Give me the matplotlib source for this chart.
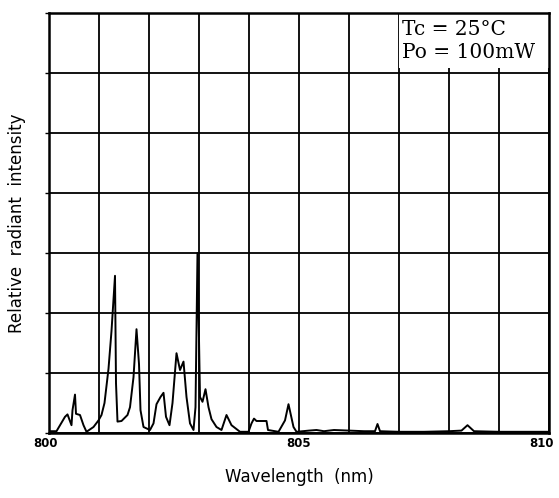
import matplotlib
matplotlib.use("Agg")
import matplotlib.pyplot as plt
import matplotlib.transforms as mtransforms

# Spectrum (wavelength nm, relative intensity in grid units)
wavelength = [800.00, 800.15, 800.32, 800.37, 800.45, 800.47, 800.52, 800.54, 800.62, 800.69,
              800.75, 800.89, 800.99, 801.05, 801.11, 801.19, 801.25, 801.32, 801.34, 801.37,
              801.45, 801.57, 801.62, 801.69, 801.75, 801.80, 801.83, 801.89, 802.02, 802.09,
              802.15, 802.23, 802.29, 802.34, 802.41, 802.47, 802.55, 802.62, 802.69, 802.75,
              802.82, 802.89, 802.93, 802.97, 803.02, 803.07, 803.13, 803.19, 803.25, 803.35,
              803.45, 803.55, 803.65, 803.82, 803.99, 804.05, 804.10, 804.15, 804.35, 804.38,
              804.59, 804.72, 804.79, 804.89, 804.95, 805.20, 805.35, 805.50, 805.70, 806.00,
              806.30, 806.52, 806.57, 806.62, 807.00, 807.50, 808.00, 808.25, 808.37, 808.50,
              809.00, 809.50, 810.00]
intensity = [0.03, 0.03, 0.27, 0.31, 0.13, 0.38, 0.64, 0.32, 0.30, 0.13,
             0.02, 0.10, 0.21, 0.30, 0.50, 1.07, 1.70, 2.62, 0.83, 0.19,
             0.20, 0.30, 0.43, 0.93, 1.73, 1.15, 0.38, 0.10, 0.05, 0.16,
             0.48, 0.60, 0.67, 0.27, 0.13, 0.50, 1.33, 1.05, 1.19, 0.60,
             0.16, 0.05, 0.43, 3.00, 0.60, 0.52, 0.73, 0.43, 0.23, 0.10,
             0.05, 0.30, 0.13, 0.02, 0.02, 0.16, 0.24, 0.20, 0.20, 0.05,
             0.02, 0.21, 0.48, 0.10, 0.02, 0.04, 0.05, 0.03, 0.05, 0.04,
             0.03, 0.03, 0.15, 0.03, 0.02, 0.02, 0.03, 0.04, 0.13, 0.03,
             0.02, 0.02, 0.02]

x_ticks = list(range(800, 811))
x_tick_labels = ["800", "", "", "", "", "805", "", "", "", "", "810"]
y_grid = list(range(0, 8))

fig = plt.figure(figsize=(5.59, 4.98), dpi=100)
ax = fig.add_axes([49/559, 65/498, 500/559, 420/498])

ax.set_xlim(800, 810)
ax.set_ylim(0, 7)
ax.set_xticks(x_ticks)
ax.set_xticklabels(x_tick_labels, fontsize=8.5, fontweight="bold", family="DejaVu Sans")
ax.set_yticks(y_grid)
ax.set_yticklabels([])
ax.tick_params(axis="x", length=0, pad=3)
ax.tick_params(axis="y", length=3, width=1, direction="out")
ax.grid(True, color="black", linewidth=1.3)
ax.set_axisbelow(True)
for s in ax.spines.values():
    s.set_linewidth(1.8)

# shift the first and last tick labels slightly as in the reference
labels = ax.get_xticklabels()
labels[0].set_transform(labels[0].get_transform() +
                        mtransforms.ScaledTranslation(-4/100, 0, fig.dpi_scale_trans))
labels[-1].set_transform(labels[-1].get_transform() +
                         mtransforms.ScaledTranslation(-7/100, 0, fig.dpi_scale_trans))

ax.plot(wavelength, intensity, color="black", linewidth=1.4, zorder=3)

# annotation box in top right
ax.fill_between([807.0, 810.0], 6.08, 7.0, color="white", zorder=2.5, linewidth=0)
ax.text(807.07, 6.73, "Tc = 25°C", family="DejaVu Serif", fontsize=14.5, va="center", ha="left", zorder=4)
ax.text(807.07, 6.35, "Po = 100mW", family="DejaVu Serif", fontsize=14.5, va="center", ha="left", zorder=4)

ax.set_xlabel("Wavelength  (nm)", fontsize=12, labelpad=13)
ax.set_ylabel("Relative  radiant  intensity", fontsize=12, labelpad=10)

fig.savefig("out.png", dpi=100)
